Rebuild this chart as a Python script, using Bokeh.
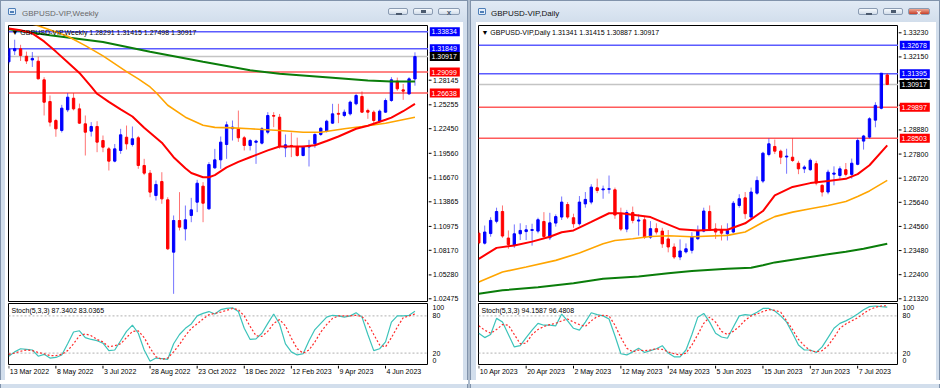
import pandas as pd
from bokeh.plotting import figure
from bokeh.models import Range1d, Span, Label, Div, ColumnDataSource
from bokeh.layouts import row, column
from bokeh.core.properties import value
from bokeh.embed import file_html
from bokeh.resources import INLINE

# ================= Weekly chart (GBPUSD-VIP, Weekly) =================
weekly_first_bar = "2022-03-13"
weekly_open = [1.3030, 1.3160, 1.3183, 1.3095, 1.3052, 1.3038, 1.2819, 1.2564, 1.2341, 1.2224,
               1.2466, 1.2603, 1.2478, 1.2302, 1.2216, 1.2271, 1.2106, 1.2008, 1.1864, 1.1989,
               1.2145, 1.2059, 1.2138, 1.1813, 1.1723, 1.1460, 1.1625, 1.1410, 1.0795, 1.1167,
               1.1069, 1.1226, 1.1382, 1.1570, 1.1304, 1.1785, 1.1879, 1.2059, 1.2245, 1.2243,
               1.2138, 1.2048, 1.2085, 1.2075, 1.2204, 1.2400, 1.2380, 1.2020, 1.2048, 1.2036,
               1.1930, 1.2030, 1.2067, 1.2177, 1.2216, 1.2310, 1.2425, 1.2400, 1.2419, 1.2537,
               1.2623, 1.2459, 1.2439, 1.2333, 1.2439, 1.2576, 1.2803, 1.2701, 1.2654, 1.28291]
weekly_high = [1.3200, 1.3290, 1.3230, 1.3150, 1.3145, 1.3090, 1.2850, 1.2635, 1.2360, 1.2525,
               1.2662, 1.2662, 1.2540, 1.2400, 1.2322, 1.2333, 1.2165, 1.2030, 1.2065, 1.2243,
               1.2282, 1.2271, 1.2160, 1.1891, 1.1760, 1.1637, 1.1734, 1.1440, 1.1226, 1.1500,
               1.1343, 1.1433, 1.1645, 1.1617, 1.1852, 1.2008, 1.2153, 1.2329, 1.2341, 1.2458,
               1.2160, 1.2125, 1.2115, 1.2263, 1.2439, 1.2439, 1.2418, 1.2177, 1.2200, 1.2140,
               1.2045, 1.2114, 1.2190, 1.2265, 1.2350, 1.2537, 1.2537, 1.2470, 1.2575, 1.2654,
               1.2683, 1.2480, 1.2460, 1.2470, 1.2600, 1.2850, 1.2845, 1.2770, 1.2850, 1.31415]
weekly_low = [1.3000, 1.3110, 1.3040, 1.3005, 1.2970, 1.2825, 1.2400, 1.2271, 1.2150, 1.2200,
              1.2440, 1.2460, 1.2300, 1.1930, 1.2153, 1.1969, 1.1969, 1.1754, 1.1850, 1.1950,
              1.2000, 1.2036, 1.1774, 1.1700, 1.1440, 1.1402, 1.1363, 1.0820, 1.0306, 1.1050,
              1.0932, 1.1147, 1.1265, 1.1147, 1.1292, 1.1774, 1.1774, 1.1891, 1.2106, 1.2090,
              1.1989, 1.1989, 1.1832, 1.2060, 1.2180, 1.2263, 1.2010, 1.1911, 1.1911, 1.1915,
              1.1920, 1.1801, 1.2020, 1.2160, 1.2200, 1.2300, 1.2310, 1.2380, 1.2400, 1.2520,
              1.2430, 1.2361, 1.2282, 1.2310, 1.2430, 1.2560, 1.2690, 1.2584, 1.2640, 1.27498]
weekly_close = [1.3180, 1.3185, 1.3105, 1.3040, 1.3070, 1.2830, 1.2556, 1.2322, 1.2243, 1.2486,
                1.2615, 1.2478, 1.2310, 1.2204, 1.2271, 1.2087, 1.2028, 1.1864, 1.2008, 1.2173,
                1.2067, 1.2126, 1.1813, 1.1723, 1.1500, 1.1590, 1.1421, 1.0834, 1.1167, 1.1089,
                1.1175, 1.1292, 1.1605, 1.1370, 1.1824, 1.1879, 1.2087, 1.2290, 1.2263, 1.2138,
                1.2048, 1.2106, 1.2100, 1.2243, 1.2400, 1.2392, 1.2036, 1.2055, 1.2036, 1.1930,
                1.2036, 1.2040, 1.2177, 1.2250, 1.2333, 1.2419, 1.2415, 1.2439, 1.2557, 1.2635,
                1.2439, 1.2439, 1.2341, 1.2451, 1.2576, 1.2819, 1.2713, 1.2686, 1.2830, 1.30917]
weekly_tick_bars = [0, 8, 16, 24, 32, 40, 48, 56, 64]
weekly_tick_labels = ["13 Mar 2022", "8 May 2022", "3 Jul 2022", "28 Aug 2022", "23 Oct 2022",
                      "18 Dec 2022", "12 Feb 2023", "9 Apr 2023", "4 Jun 2023"]
weekly_price_ticks = [1.02475, 1.05280, 1.08170, 1.10975, 1.13865, 1.16670, 1.19560,
                      1.22450, 1.25255, 1.28145]
weekly_blue_levels = [1.33834, 1.31849]
weekly_red_levels = [1.29099, 1.26638]
weekly_bid = 1.30917
weekly_ma_fast_bars = [0, 2, 4, 6, 8, 10, 12, 14, 15, 17, 19, 21, 23, 26, 28, 30, 31, 33, 34, 35,
                       37, 39, 41, 44, 46, 48, 50, 52, 54, 56, 59, 61, 64, 65, 67, 69]
weekly_ma_fast = [1.3421, 1.3400, 1.3365, 1.3270, 1.3150, 1.3025, 1.2900, 1.2740, 1.2655, 1.2560,
                  1.2472, 1.2388, 1.2255, 1.2080, 1.1910, 1.1780, 1.1725, 1.1675, 1.1675, 1.1700,
                  1.1790, 1.1855, 1.1910, 1.1990, 1.2036, 1.2036, 1.2036, 1.2050, 1.2100, 1.2153,
                  1.2244, 1.2280, 1.2350, 1.2375, 1.2450, 1.2537]
weekly_ma_mid_bars = [3, 5, 10, 13, 16, 20, 22, 24, 25, 27, 30, 33, 35, 38, 41, 46, 50, 53, 57, 60,
                      64, 69]
weekly_ma_mid = [1.3490, 1.3455, 1.3330, 1.3220, 1.3100, 1.2915, 1.2830, 1.2735, 1.2670, 1.2520,
                 1.2380, 1.2285, 1.2260, 1.2255, 1.2244, 1.2224, 1.2204, 1.2204, 1.2244, 1.2271,
                 1.2309, 1.2380]
weekly_ma_slow_bars = [0, 7, 16, 24, 33, 41, 46, 55, 61, 65, 69]
weekly_ma_slow = [1.3413, 1.3343, 1.3262, 1.3148, 1.3030, 1.2932, 1.2890, 1.2843, 1.2811, 1.2799,
                  1.2799]
weekly_stoch_main = [15, 22, 27, 26, 25, 15, 18, 12, 13, 17, 35, 54, 56, 45, 42, 40, 36, 24, 25, 40,
                     55, 65, 52, 25, 7, 12, 11, 10, 35, 50, 60, 67, 80, 84, 87, 83, 90, 92, 93, 87,
                     60, 42, 43, 52, 68, 83, 67, 35, 22, 17, 19, 40, 58, 68, 78, 81, 80, 78, 80, 85,
                     78, 50, 24, 27, 38, 70, 80, 80, 81, 87.34]
weekly_stoch_signal = [18, 20, 23, 25, 24, 21, 19, 16, 16, 18, 24, 35, 48, 51, 48, 42, 38, 30, 32, 35,
                       45, 55, 56, 45, 28, 14, 10, 12, 22, 34, 48, 60, 67, 75, 82, 84, 86, 89, 92, 90,
                       80, 63, 48, 47, 55, 68, 74, 64, 44, 27, 20, 25, 38, 54, 66, 76, 80, 80, 80, 81,
                       79, 68, 50, 33, 30, 45, 62, 77, 80, 83.04]
weekly_title = "GBPUSD-VIP,Weekly"
weekly_header = "GBPUSD-VIP,Weekly  1.28291 1.31415 1.27498 1.30917"
weekly_stoch_header = "Stoch(5,3,3) 87.3402 83.0365"

# ================= Daily chart (GBPUSD-VIP, Daily) =================
daily_first_bar, daily_last_bar = "2023-04-10", "2023-07-14"
daily_open = [1.2426, 1.2381, 1.2424, 1.2479, 1.2523, 1.2404, 1.2371, 1.2423, 1.2433, 1.2438,
              1.2435, 1.2478, 1.2405, 1.2471, 1.2498, 1.2554, 1.2495, 1.2468, 1.2557, 1.2565,
              1.2629, 1.2620, 1.2622, 1.2620, 1.2511, 1.2444, 1.2518, 1.2480, 1.2486, 1.2408,
              1.2446, 1.2435, 1.2400, 1.2364, 1.2319, 1.2342, 1.2349, 1.2401, 1.2435, 1.2523,
              1.2445, 1.2441, 1.2423, 1.2431, 1.2550, 1.2584, 1.2498, 1.2605, 1.2659, 1.2778,
              1.2814, 1.2793, 1.2767, 1.2766, 1.2739, 1.2714, 1.2710, 1.2737, 1.2640, 1.2610,
              1.2690, 1.2684, 1.2710, 1.2689, 1.2734, 1.2838, 1.2856, 1.2932, 1.2985, 1.31341]
daily_high = [1.2440, 1.2460, 1.2497, 1.2540, 1.2550, 1.2438, 1.2465, 1.2470, 1.2462, 1.2468,
              1.2495, 1.2520, 1.2517, 1.2510, 1.2590, 1.2565, 1.2513, 1.2592, 1.2610, 1.2645,
              1.2670, 1.2639, 1.2684, 1.2630, 1.2540, 1.2530, 1.2545, 1.2510, 1.2500, 1.2480,
              1.2470, 1.2450, 1.2440, 1.2380, 1.2398, 1.2380, 1.2430, 1.2460, 1.2540, 1.2550,
              1.2470, 1.2461, 1.2470, 1.2570, 1.2600, 1.2610, 1.2630, 1.2680, 1.2790, 1.2850,
              1.2845, 1.2800, 1.2804, 1.2850, 1.2750, 1.2730, 1.2760, 1.2750, 1.2645, 1.2710,
              1.2725, 1.2725, 1.2740, 1.2760, 1.2850, 1.2866, 1.2945, 1.3012, 1.3143, 1.31415]
daily_low = [1.2375, 1.2375, 1.2410, 1.2470, 1.2405, 1.2356, 1.2360, 1.2395, 1.2395, 1.2370,
             1.2425, 1.2400, 1.2395, 1.2455, 1.2485, 1.2490, 1.2450, 1.2460, 1.2540, 1.2555,
             1.2605, 1.2580, 1.2603, 1.2490, 1.2435, 1.2430, 1.2470, 1.2415, 1.2400, 1.2400,
             1.2420, 1.2360, 1.2340, 1.2310, 1.2305, 1.2335, 1.2335, 1.2395, 1.2430, 1.2435,
             1.2400, 1.2393, 1.2393, 1.2425, 1.2540, 1.2490, 1.2490, 1.2598, 1.2650, 1.2770,
             1.2780, 1.2735, 1.2692, 1.2745, 1.2690, 1.2695, 1.2705, 1.2640, 1.2590, 1.2600,
             1.2640, 1.2670, 1.2680, 1.2670, 1.2730, 1.2800, 1.2850, 1.2900, 1.2980, 1.30887]
daily_close = [1.2382, 1.2431, 1.2483, 1.2523, 1.2413, 1.2375, 1.2423, 1.2438, 1.2441, 1.2442,
               1.2486, 1.2411, 1.2472, 1.2500, 1.2565, 1.2498, 1.2468, 1.2565, 1.2577, 1.2632,
               1.2617, 1.2624, 1.2625, 1.2507, 1.2444, 1.2518, 1.2483, 1.2485, 1.2408, 1.2446,
               1.2431, 1.2378, 1.2364, 1.2319, 1.2346, 1.2356, 1.2411, 1.2435, 1.2525, 1.2445,
               1.2431, 1.2426, 1.2438, 1.2560, 1.2580, 1.2513, 1.2610, 1.2662, 1.2784, 1.2826,
               1.2793, 1.2766, 1.2771, 1.2751, 1.2714, 1.2722, 1.2752, 1.2650, 1.2610, 1.2699,
               1.2695, 1.2714, 1.2689, 1.2739, 1.2841, 1.2861, 1.2938, 1.2998, 1.3142, 1.30917]
daily_tick_bars = [0, 8, 16, 24, 32, 40, 48, 56, 64]
daily_tick_labels = ["10 Apr 2023", "20 Apr 2023", "2 May 2023", "12 May 2023", "24 May 2023",
                     "5 Jun 2023", "15 Jun 2023", "27 Jun 2023", "7 Jul 2023"]
daily_price_ticks = [1.21320, 1.22400, 1.23480, 1.24560, 1.25640, 1.26720, 1.27800, 1.28880,
                     1.29990, 1.31070, 1.32150, 1.33230]
daily_blue_levels = [1.32678, 1.31395]
daily_red_levels = [1.29897, 1.28503]
daily_bid = 1.30917
daily_ma_fast_bars = [0, 3, 6, 9, 12, 14, 16, 19, 22, 24, 27, 29, 31, 34, 37, 40, 42, 45, 48, 50,
                      53, 56, 59, 62, 64, 66, 69]
daily_ma_fast = [1.2311, 1.2360, 1.2371, 1.2388, 1.2410, 1.2430, 1.2438, 1.2476, 1.2515, 1.2515,
                 1.2505, 1.2498, 1.2475, 1.2443, 1.2438, 1.2441, 1.2441, 1.2470, 1.2525, 1.2595,
                 1.2633, 1.2650, 1.2659, 1.2669, 1.2690, 1.2730, 1.2819]
daily_ma_mid_bars = [0, 4, 8, 13, 17, 21, 23, 26, 29, 32, 36, 42, 45, 48, 50, 53, 56, 59, 62, 64,
                     66, 69]
daily_ma_mid = [1.2207, 1.2252, 1.2274, 1.2304, 1.2337, 1.2378, 1.2393, 1.2401, 1.2411, 1.2414,
                1.2410, 1.2416, 1.2431, 1.2475, 1.2500, 1.2520, 1.2535, 1.2550, 1.2568, 1.2590,
                1.2615, 1.2662]
daily_ma_slow_bars = [0, 4, 10, 16, 21, 27, 32, 36, 42, 46, 48, 50, 53, 56, 59, 62, 65, 69]
daily_ma_slow = [1.2155, 1.2170, 1.2184, 1.2202, 1.2222, 1.2232, 1.2246, 1.2256, 1.2266, 1.2271,
                 1.2282, 1.2295, 1.2307, 1.2319, 1.2331, 1.2343, 1.2356, 1.2378]
daily_stoch_main = [52, 45, 50, 76, 70, 50, 30, 32, 45, 57, 68, 65, 65, 64, 83, 72, 60, 57, 70, 85,
                    82, 80, 75, 48, 19, 17, 22, 28, 21, 24, 27, 32, 20, 14, 14, 25, 50, 78, 84, 70,
                    52, 46, 44, 62, 80, 82, 81, 86, 92, 92, 88, 80, 70, 52, 33, 25, 25, 21, 30, 45,
                    60, 68, 72, 77, 83, 90, 95, 96, 95, 94.16]
daily_stoch_signal = [64, 57, 52, 58, 66, 65, 50, 35, 36, 50, 58, 63, 66, 68, 72, 75, 70, 66, 63, 72,
                      79, 81, 80, 65, 45, 28, 22, 25, 24, 25, 27, 26, 22, 19, 17, 20, 33, 50, 68, 78,
                      70, 55, 50, 55, 63, 73, 80, 83, 87, 90, 89, 86, 72, 58, 42, 32, 24, 22, 24, 32,
                      45, 60, 67, 72, 77, 84, 90, 94, 96, 96.48]
daily_title = "GBPUSD-VIP,Daily"
daily_header = "GBPUSD-VIP,Daily  1.31341 1.31415 1.30887 1.30917"
daily_stoch_header = "Stoch(5,3,3) 94.1587 96.4808"

stoch_levels = [20, 80]
stoch_scale_values = [93, 80, 20, 8]
stoch_scale_labels = ["100", "80", "20", "0"]

# ================= styling =================
FONT = "Liberation Sans"
BULL, BEAR = "#0000ff", "#ff0000"
FRAME = "#d2deec"
FRAME_DARK = "#8193ab"
FS = "7px"


def bare_figure(width, height, x_range, y_range, left=0, right=0, top=0, bottom=0, outline=None):
    f = figure(width=width, height=height, x_range=x_range, y_range=y_range,
               x_axis_location=None, y_axis_location=None, output_backend="svg",
               toolbar_location=None, min_border_left=left, min_border_right=right,
               min_border_top=top, min_border_bottom=bottom, background_fill_color="white",
               border_fill_color="white", outline_line_color=outline)
    f.grid.visible = False
    return f


def frame_div(width, height, edges):
    """Plain window-frame strip; edges lists the sides that carry the dark outer line."""
    lines = ""
    if "left" in edges:
        lines += f'<div style="position:absolute;left:0;top:0;width:1px;height:{height}px;background:{FRAME_DARK};"></div>'
    if "right" in edges:
        lines += f'<div style="position:absolute;right:0;top:0;width:1px;height:{height}px;background:{FRAME_DARK};"></div>'
    if "bottom" in edges:
        lines += f'<div style="position:absolute;left:0;bottom:0;width:{width}px;height:1px;background:{FRAME_DARK};"></div>'
    html = (f'<div style="position:relative;width:{width}px;height:{height}px;overflow:hidden;'
            f'background:{FRAME};">{lines}</div>')
    return Div(text=html, width=width, height=height, styles={"margin": "0", "padding": "0"})


def title_bar(title, width, active, icon_x, text_x):
    tcol = "#111111" if active else "#6a6a6a"
    btn = ("position:absolute;top:7px;width:20px;height:7px;border:1px solid #8a9bb2;"
           "border-radius:2px;background:linear-gradient(#f7fafd,#d2ddea);")
    close_bg = ("linear-gradient(#efa894,#c6402a)" if active else "linear-gradient(#f7fafd,#d2ddea)")
    close_fg = "#ffffff" if active else "#4b5a6e"
    html = (
        f'<div style="position:relative;width:{width}px;height:22px;overflow:hidden;'
        f'background:linear-gradient(#e1eaf5,{FRAME});font-family:\'{FONT}\',sans-serif;'
        f'box-sizing:border-box;border:1px solid {FRAME_DARK};border-bottom:none;">'
        f'<div style="position:absolute;left:{icon_x}px;top:7px;width:8px;height:7px;'
        f'border:1px solid #4f7fb8;background:#e4eefa;border-radius:1px;"></div>'
        f'<div style="position:absolute;left:{icon_x + 2}px;top:10px;width:4px;height:2px;'
        f'background:#4f7fb8;"></div>'
        f'<div style="position:absolute;left:{text_x}px;top:8px;font-size:8px;line-height:10px;'
        f'color:{tcol};white-space:nowrap;">{title}</div>'
        f'<div style="{btn}left:387px;"><div style="position:absolute;left:7px;top:4px;width:6px;'
        f'height:2px;background:#4b5a6e;"></div></div>'
        f'<div style="{btn}left:412px;"><div style="position:absolute;left:7px;top:1px;width:5px;'
        f'height:3px;border:1px solid #4b5a6e;border-top-width:2px;"></div></div>'
        f'<div style="{btn}left:437px;width:22px;background:{close_bg};color:{close_fg};font-size:8px;'
        f'line-height:7px;text-align:center;font-weight:bold;">x</div>'
        f'</div>'
    )
    return Div(text=html, width=width, height=22, styles={"margin": "0", "padding": "0"})


def build_window(title, active, o, h, l, c, x_end, y_lo, y_hi, price_ticks, blue_lv, red_lv,
                 bid, mas, st_main, st_sig, tick_bars, tick_labels, header, st_header,
                 win_w, side_l, side_r, pad_l, scale_w, icon_x, text_x):
    n = len(o)
    xs = list(range(n))
    content_w = win_w - side_l - side_r
    main_w = content_w - scale_w
    xr = Range1d(-0.05, x_end)
    yr = Range1d(y_lo, y_hi)

    # ---- main price window ----
    p = bare_figure(main_w, 280, xr, yr, left=pad_l, top=3, outline="black")
    p.add_layout(Span(location=bid, dimension="width", line_color="#c4c4c4", line_width=1.5,
                      level="underlay"))
    for lv in blue_lv:
        p.add_layout(Span(location=lv, dimension="width", line_color="#5b5bff", line_width=1.5,
                          level="underlay"))
    for lv in red_lv:
        p.add_layout(Span(location=lv, dimension="width", line_color="#ff5a5a", line_width=1.5,
                          level="underlay"))
    cols = [BULL if cc >= oo else BEAR for oo, cc in zip(o, c)]
    src = ColumnDataSource(dict(x=xs, h=h, l=l, top=[max(a, b) for a, b in zip(o, c)],
                                bottom=[min(a, b) for a, b in zip(o, c)], color=cols))
    p.segment(x0="x", y0="l", x1="x", y1="h", source=src, line_color="color", line_alpha=0.55,
              line_width=1)
    p.vbar(x="x", width=0.4, top="top", bottom="bottom", source=src, fill_color="color",
           line_color="color", line_width=1)
    for bars, vals, colr, lw in mas:
        p.line(bars, vals, line_color=colr, line_width=lw)
    p.add_layout(Label(x=-0.05, y=y_hi, x_offset=3, y_offset=-3, text="\u25bc " + header,
                       text_font=FONT, text_font_size=FS, text_color="black",
                       text_baseline="top", text_align="left"))

    # ---- price scale ----
    ps = bare_figure(scale_w, 280, Range1d(0, scale_w), yr, top=3)
    ps.segment(x0=0, y0=price_ticks, x1=3, y1=price_ticks, line_color="black", line_width=1)
    ps.text(x=4.5, y=price_ticks, text=[f"{t:.5f}" for t in price_ticks], text_font=value(FONT),
            text_font_size=FS, text_color="black", text_baseline="middle", text_align="left")
    tag_vals = list(blue_lv) + list(red_lv) + [bid]
    tag_cols = ["#0000ff"] * len(blue_lv) + ["#ff0000"] * len(red_lv) + ["#000000"]
    ps.rect(x=16.3, y=tag_vals, width=30, height=9, width_units="screen", height_units="screen",
            fill_color=tag_cols, line_color=None)
    ps.text(x=3, y=tag_vals, text=[f"{v:.5f}" for v in tag_vals], text_font=value(FONT),
            text_font_size=FS, text_color="white", text_baseline="middle", text_align="left")

    # ---- stochastic window ----
    s = bare_figure(main_w, 63, xr, Range1d(0, 100), left=pad_l, top=1, outline="black")
    for lv in stoch_levels:
        s.add_layout(Span(location=lv, dimension="width", line_color="#b0b0b0", line_width=1,
                          line_dash="2 2", level="underlay"))
    s.line(xs, st_main, line_color="#3cc3ba", line_width=1.2)
    s.line(xs, st_sig, line_color="#ff2a2a", line_width=1.2, line_dash="2 2")
    s.add_layout(Label(x=-0.05, y=100, x_offset=3, y_offset=-3, text=st_header, text_font=FONT,
                       text_font_size=FS, text_color="black", text_baseline="top",
                       text_align="left"))
    ss = bare_figure(scale_w, 63, Range1d(0, scale_w), s.y_range, top=1)
    ss.text(x=4, y=stoch_scale_values, text=stoch_scale_labels, text_font=value(FONT),
            text_font_size=FS, text_color="black", text_baseline="middle", text_align="left")

    # ---- time scale ----
    t = bare_figure(content_w, 15, xr, Range1d(0, 15), left=pad_l, right=scale_w)
    t.segment(x0=tick_bars, y0=15, x1=tick_bars, y1=12, line_color="black", line_width=1)
    t.text(x=tick_bars, y=12.5, text=tick_labels, x_offset=1, text_font=value(FONT),
           text_font_size=FS, text_color="black", text_baseline="top", text_align="left")

    content = column(row(p, ps, spacing=0), row(s, ss, spacing=0), t, spacing=0)
    middle = row(frame_div(side_l, 358, ["left"]), content, frame_div(side_r, 358, ["right"]),
                 spacing=0)
    return column(title_bar(title, win_w, active, icon_x, text_x), middle,
                  frame_div(win_w, 8, ["left", "right", "bottom"]), spacing=0)


weekly_dates = pd.date_range(weekly_first_bar, periods=len(weekly_open), freq="7D")
daily_dates = pd.bdate_range(daily_first_bar, daily_last_bar)

left = build_window(
    weekly_title, False, weekly_open, weekly_high, weekly_low, weekly_close,
    71.3, 1.02040, 1.34567, weekly_price_ticks, weekly_blue_levels, weekly_red_levels,
    weekly_bid,
    [(weekly_ma_slow_bars, weekly_ma_slow, "#0a7d0a", 2),
     (weekly_ma_mid_bars, weekly_ma_mid, "#ffa500", 1.6),
     (weekly_ma_fast_bars, weekly_ma_fast, "#ff0000", 2)],
    weekly_stoch_main, weekly_stoch_signal, weekly_tick_bars, weekly_tick_labels,
    weekly_header, weekly_stoch_header,
    win_w=468, side_l=5, side_r=5, pad_l=3, scale_w=35, icon_x=7, text_x=21)

right = build_window(
    daily_title, True, daily_open, daily_high, daily_low, daily_close,
    70.9, 1.21154, 1.33557, daily_price_ticks, daily_blue_levels, daily_red_levels,
    daily_bid,
    [(daily_ma_slow_bars, daily_ma_slow, "#0a7d0a", 2),
     (daily_ma_mid_bars, daily_ma_mid, "#ffa500", 1.6),
     (daily_ma_fast_bars, daily_ma_fast, "#ff0000", 2)],
    daily_stoch_main, daily_stoch_signal, daily_tick_bars, daily_tick_labels,
    daily_header, daily_stoch_header,
    win_w=470, side_l=6, side_r=4, pad_l=2, scale_w=38, icon_x=7, text_x=20)

gap = Div(text='<div style="width:2px;height:388px;background:#aebccd;"></div>', width=2,
          height=388, styles={"margin": "0", "padding": "0"})

page = row(left, gap, right, spacing=0)

open("out.html", "w").write(file_html(page, INLINE, title="GBPUSD-VIP"))
